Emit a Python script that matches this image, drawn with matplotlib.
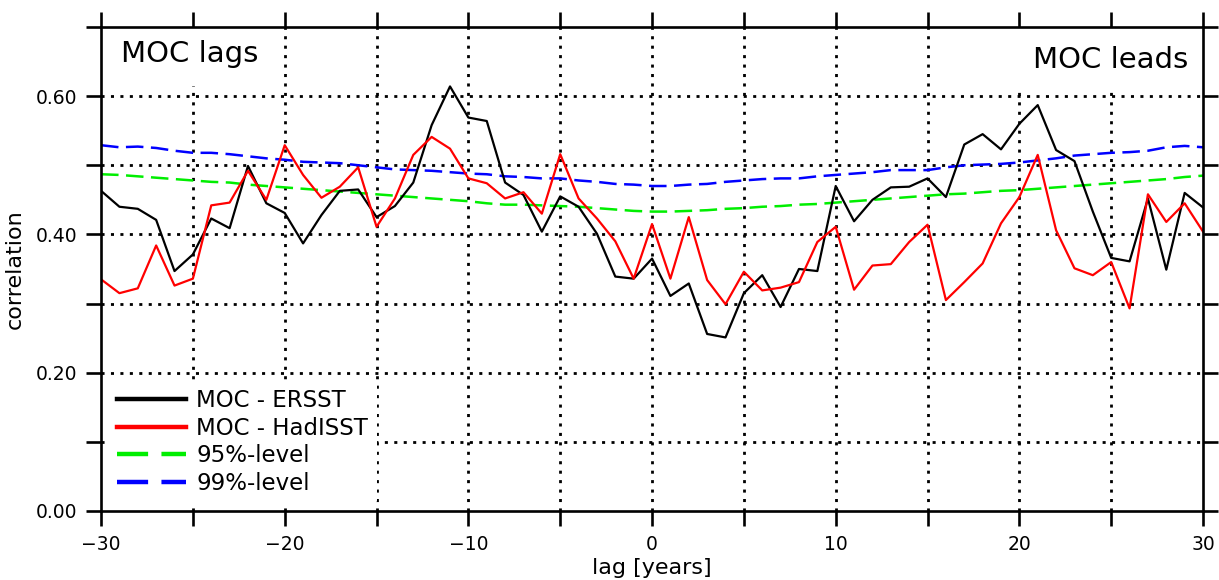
import matplotlib
matplotlib.use("Agg")
import matplotlib.pyplot as plt
import numpy as np

lags = np.arange(-30, 31)

# lagged correlation of MOC index with SST from the two datasets
moc_ersst = [0.463, 0.440, 0.437, 0.421, 0.347, 0.371, 0.423, 0.409, 0.499, 0.445,
             0.431, 0.387, 0.428, 0.463, 0.465, 0.425, 0.441, 0.475, 0.558, 0.614,
             0.569, 0.564, 0.475, 0.457, 0.404, 0.455, 0.440, 0.401, 0.339, 0.336,
             0.365, 0.311, 0.329, 0.256, 0.251, 0.315, 0.341, 0.295, 0.350, 0.347,
             0.470, 0.419, 0.450, 0.468, 0.469, 0.481, 0.454, 0.530, 0.545, 0.523,
             0.560, 0.587, 0.522, 0.506, 0.433, 0.366, 0.361, 0.452, 0.349, 0.460,
             0.439]
moc_hadisst = [0.335, 0.315, 0.322, 0.384, 0.326, 0.336, 0.442, 0.446, 0.492, 0.450,
               0.529, 0.486, 0.453, 0.469, 0.497, 0.411, 0.452, 0.515, 0.541, 0.524,
               0.481, 0.474, 0.452, 0.461, 0.430, 0.516, 0.452, 0.423, 0.390, 0.336,
               0.415, 0.336, 0.425, 0.334, 0.299, 0.346, 0.319, 0.323, 0.331, 0.389,
               0.411, 0.320, 0.355, 0.357, 0.389, 0.414, 0.305, 0.331, 0.358, 0.416,
               0.454, 0.515, 0.406, 0.351, 0.341, 0.360, 0.293, 0.458, 0.418, 0.445,
               0.404]

# significance levels
sig95 = [0.487, 0.486, 0.484, 0.482, 0.480, 0.478, 0.476, 0.475, 0.472, 0.470,
         0.468, 0.466, 0.464, 0.462, 0.460, 0.458, 0.456, 0.454, 0.452, 0.450,
         0.448, 0.445, 0.443, 0.443, 0.442, 0.441, 0.440, 0.438, 0.436, 0.434,
         0.433, 0.433, 0.434, 0.435, 0.437, 0.438, 0.440, 0.441, 0.443, 0.444,
         0.446, 0.448, 0.450, 0.452, 0.454, 0.456, 0.458, 0.459, 0.461, 0.463,
         0.464, 0.466, 0.468, 0.470, 0.472, 0.474, 0.476, 0.478, 0.480, 0.483,
         0.485]
sig99 = [0.529, 0.526, 0.527, 0.525, 0.521, 0.518, 0.518, 0.516, 0.513, 0.510,
         0.508, 0.505, 0.504, 0.503, 0.500, 0.497, 0.494, 0.493, 0.492, 0.490,
         0.488, 0.487, 0.484, 0.483, 0.481, 0.481, 0.478, 0.476, 0.473, 0.472,
         0.470, 0.470, 0.472, 0.473, 0.476, 0.478, 0.480, 0.481, 0.481, 0.484,
         0.486, 0.488, 0.490, 0.493, 0.493, 0.493, 0.497, 0.500, 0.501, 0.502,
         0.504, 0.507, 0.510, 0.514, 0.516, 0.518, 0.519, 0.521, 0.526, 0.528,
         0.526]

fig = plt.figure(figsize=(12.19, 5.80), dpi=100)
ax = fig.add_axes([0.0829, 0.119, 0.904, 0.8345])

ax.plot(lags, moc_ersst, color='black', lw=1.6, label='MOC - ERSST', zorder=4)
ax.plot(lags, moc_hadisst, color='red', lw=1.6, label='MOC - HadISST', zorder=4)
ax.plot(lags, sig95, color='#00ee00', lw=1.8, ls=(0, (7, 3)), label='95%-level', zorder=3)
ax.plot(lags, sig99, color='blue', lw=1.8, ls=(0, (7, 3)), label='99%-level', zorder=3)

ax.set_xlim(-30, 30)
ax.set_ylim(0, 0.7)
ax.set_xticks(np.arange(-30, 31, 10))
ax.set_xticks(np.arange(-25, 30, 10), minor=True)
ax.set_yticks(np.arange(0, 0.61, 0.2))
ax.set_yticks(np.arange(0.1, 0.71, 0.2), minor=True)
ax.yaxis.set_major_formatter(matplotlib.ticker.FormatStrFormatter('%.2f'))
ax.tick_params(which='both', direction='out', top=True, right=True,
               length=11, width=1.9, labelsize=13.5, pad=6)

# dotted grid, skipping the frame edges
for y in np.arange(0.1, 0.65, 0.1):
    ax.axhline(y, color='black', lw=2.0, ls=(0, (1.1, 2.3)), zorder=1)
for x in range(-25, 30, 5):
    ax.axvline(x, color='black', lw=2.0, ls=(0, (1.1, 2.3)), zorder=1)

for s in ax.spines.values():
    s.set_linewidth(1.9)
    s.set_zorder(7)

ax.set_xlabel('lag [years]', fontsize=16, labelpad=3)
ax.set_ylabel('correlation', fontsize=16, labelpad=8)

box = dict(facecolor='white', edgecolor='none', pad=13)
ax.text(0.018, 0.928, 'MOC lags', transform=ax.transAxes, fontsize=21,
        va='baseline', ha='left', bbox=box, clip_on=True, zorder=5)
ax.text(0.987, 0.915, 'MOC leads', transform=ax.transAxes, fontsize=21,
        va='baseline', ha='right', bbox=box, clip_on=True, zorder=5)

leg = ax.legend(loc='lower left', bbox_to_anchor=(0.0, 0.0), fontsize=16.5,
                frameon=True, framealpha=1, facecolor='white', edgecolor='none',
                handlelength=3.0, handletextpad=0.45, labelspacing=0.2,
                borderaxespad=0.3)
leg.set_zorder(5)
for line in leg.get_lines():
    line.set_linewidth(3.2)

plt.savefig('out.png', dpi=100)
